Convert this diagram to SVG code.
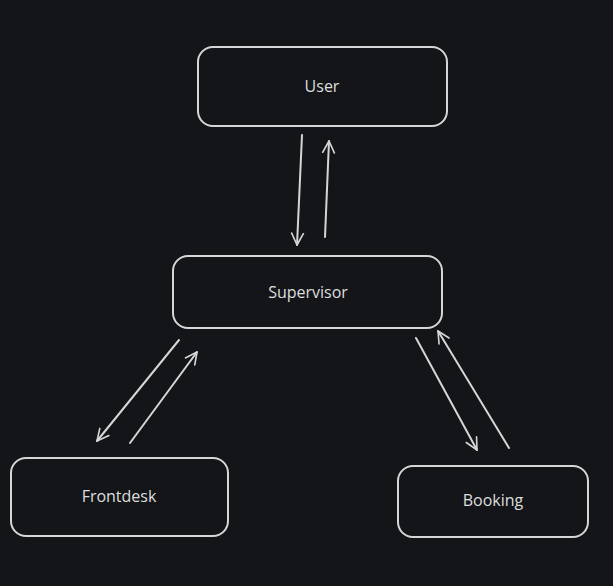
<svg xmlns="http://www.w3.org/2000/svg" width="613" height="586" viewBox="0 0 613 586">
<style>
.box{fill:none;stroke:#d6d6d6;stroke-width:2;stroke-linecap:round}
.lbl{fill:#dedede;font-family:"Open Sans","Liberation Sans",sans-serif;font-size:16px;text-anchor:middle;dominant-baseline:central}
.edge{fill:none;stroke:#d6d6d6;stroke-width:2;stroke-linecap:round;marker-end:url(#ah)}
</style>
<defs>
<marker id="ah" viewBox="0 0 20 20" refX="14" refY="10" markerWidth="18" markerHeight="18" markerUnits="userSpaceOnUse" orient="auto">
<path d="M1 3.5 L14 10 L1 16.5" fill="none" stroke="#d6d6d6" stroke-width="1.8" stroke-linecap="round" stroke-linejoin="round"/>
</marker>
</defs>
<rect width="613" height="586" fill="#131519"/>
<g id="user"><rect class="box" x="198" y="47" width="249" height="79" rx="15"/><text class="lbl" x="322" y="86">User</text></g>
<g id="supervisor"><rect class="box" x="173" y="256" width="269" height="72" rx="15"/><text class="lbl" x="308" y="292">Supervisor</text></g>
<g id="frontdesk"><rect class="box" x="11" y="458" width="217" height="78" rx="15"/><text class="lbl" x="119" y="496">Frontdesk</text></g>
<g id="booking"><rect class="box" x="398" y="466" width="190" height="71" rx="15"/><text class="lbl" x="493" y="500">Booking</text></g>
<g id="connectors">
<path class="edge" d="M302 135 L297 245"/>
<path class="edge" d="M325 237 L329 141"/>
<path class="edge" d="M179 340 L97 441"/>
<path class="edge" d="M130 443 L197 352"/>
<path class="edge" d="M416 338 L477 450"/>
<path class="edge" d="M509 448 L438 331"/>
</g>
</svg>
